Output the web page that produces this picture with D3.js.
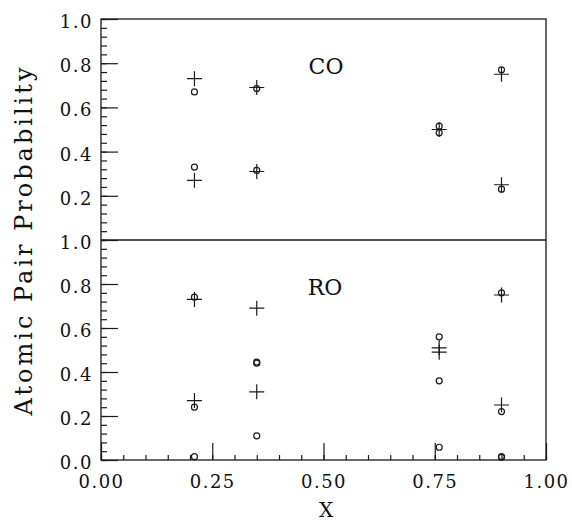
<!DOCTYPE html>
<html>
<head>
<meta charset="utf-8">
<script src="https://cdn.jsdelivr.net/npm/d3@7"></script>
<style>
    body { margin: 0; background: #fff; }
    svg text { font-family: "DejaVu Serif", serif; fill: #111; }
</style>
</head>
<body>
<script>
// x positions of the four configurations
var xValues = [0.21, 0.35, 0.76, 0.90];

// CO panel: "+" and "o" markers, one list per x position
var coPlus = [[0.73, 0.27], [0.69, 0.31], [0.50], [0.75, 0.25]];
var coCircle = [[0.67, 0.33], [0.685, 0.315], [0.515, 0.485], [0.77, 0.23]];

// RO panel
var roPlus = [[0.73, 0.27], [0.69, 0.31], [0.51, 0.49], [0.75, 0.25]];
var roCircle = [[0.74, 0.24, 0.015], [0.44, 0.445, 0.11], [0.56, 0.36, 0.058], [0.76, 0.22, 0.012, 0.016]];

// tick labels
var xTicks = [0, 0.25, 0.5, 0.75, 1];
var yTicksTop = [0.2, 0.4, 0.6, 0.8, 1.0];
var yTicksBottom = [0, 0.2, 0.4, 0.6, 0.8, 1.0];

var width = 572, height = 525;
var plotLeft = 101, plotRight = 546, plotTop = 19, plotMid = 240, plotBottom = 460;
var ink = "#1a1a1a";

var svg = d3.select("body").append("svg")
    .attr("width", width)
    .attr("height", height);

var x = d3.scaleLinear().domain([0, 1]).range([plotLeft, plotRight]);
var yTop = d3.scaleLinear().domain([0, 1]).range([plotMid, plotTop]);
var yBottom = d3.scaleLinear().domain([0, 1]).range([plotBottom, plotMid]);

// flatten nested lists into point records
function flatten(lists) {
    var out = [];
    lists.forEach(function (vals, i) {
        vals.forEach(function (v) {
            out.push({ x: xValues[i], y: v });
        });
    });
    return out;
}

function minorTicks(step, from, to) {
    var t = [];
    for (var v = from; v <= to + 1e-9; v += step) t.push(+v.toFixed(3));
    return t;
}

function styleAxis(g, fontSize) {
    g.select(".domain").remove();
    g.selectAll("line").attr("stroke", ink).attr("stroke-width", 1.2);
    g.selectAll("text")
        .style("font-size", fontSize + "px")
        .style("letter-spacing", "1.5px")
        .attr("fill", ink);
}

// y axes (ticks pointing inward)
function drawYAxis(y, labels) {
    svg.append("g")
        .attr("transform", "translate(" + plotLeft + ",0)")
        .call(d3.axisLeft(y).tickValues(minorTicks(0.04, 0, 1)).tickSizeInner(-6).tickSizeOuter(0).tickFormat(""))
        .call(function (g) { styleAxis(g, 18); });

    var g = svg.append("g")
        .attr("transform", "translate(" + plotLeft + ",0)")
        .call(d3.axisLeft(y).tickValues(labels).tickSizeInner(-17).tickSizeOuter(0).tickPadding(8)
            .tickFormat(d3.format(".1f")))
        .call(function (g) { styleAxis(g, 18); });
    g.selectAll("text").attr("dy", "0.47em");
}

drawYAxis(yTop, yTicksTop);
drawYAxis(yBottom, yTicksBottom);

// x axis
svg.append("g")
    .attr("transform", "translate(0," + plotBottom + ")")
    .call(d3.axisBottom(x).tickValues(minorTicks(0.05, 0, 1)).tickSizeInner(-5).tickSizeOuter(0).tickFormat(""))
    .call(function (g) { styleAxis(g, 18); });

svg.append("g")
    .attr("transform", "translate(0," + plotBottom + ")")
    .call(d3.axisBottom(x).tickValues(xTicks).tickSizeInner(-17).tickSizeOuter(0).tickPadding(15)
        .tickFormat(d3.format(".2f")))
    .call(function (g) { styleAxis(g, 18); });

// frame and panel divider
svg.append("rect")
    .attr("x", plotLeft).attr("y", plotTop)
    .attr("width", plotRight - plotLeft).attr("height", plotBottom - plotTop)
    .attr("fill", "none").attr("stroke", ink).attr("stroke-width", 1.3);

svg.append("line")
    .attr("x1", plotLeft).attr("x2", plotRight)
    .attr("y1", plotMid).attr("y2", plotMid)
    .attr("stroke", ink).attr("stroke-width", 1.3);

// markers
function drawPanel(y, plus, circ) {
    var g = svg.append("g");
    g.selectAll(".circ")
        .data(flatten(circ))
        .enter().append("circle")
        .attr("class", "circ")
        .attr("cx", function (d) { return x(d.x); })
        .attr("cy", function (d) { return y(d.y); })
        .attr("r", 3)
        .attr("fill", "none")
        .attr("stroke", ink)
        .attr("stroke-width", 1.2);

    g.selectAll(".plus")
        .data(flatten(plus))
        .enter().append("path")
        .attr("class", "plus")
        .attr("d", function (d) {
            var cx = x(d.x), cy = y(d.y), s = 7.5;
            return "M" + (cx - s) + "," + cy + "H" + (cx + s) +
                "M" + cx + "," + (cy - s) + "V" + (cy + s);
        })
        .attr("stroke", ink)
        .attr("stroke-width", 1.2)
        .attr("fill", "none");
}

drawPanel(yTop, coPlus, coCircle);
drawPanel(yBottom, roPlus, roCircle);

// panel names
svg.append("text")
    .attr("x", 326).attr("y", 74)
    .attr("text-anchor", "middle")
    .style("font-size", "22px")
    .text("CO");

svg.append("text")
    .attr("x", 325).attr("y", 295)
    .attr("text-anchor", "middle")
    .style("font-size", "22px")
    .text("RO");

// axis titles
svg.append("text")
    .attr("x", 326).attr("y", 517)
    .attr("text-anchor", "middle")
    .style("font-size", "20px")
    .text("X");

svg.append("text")
    .attr("transform", "translate(32,240) rotate(-90)")
    .attr("text-anchor", "middle")
    .style("font-size", "24px")
    .style("letter-spacing", "3px")
    .text("Atomic Pair Probability");
</script>
</body>
</html>
